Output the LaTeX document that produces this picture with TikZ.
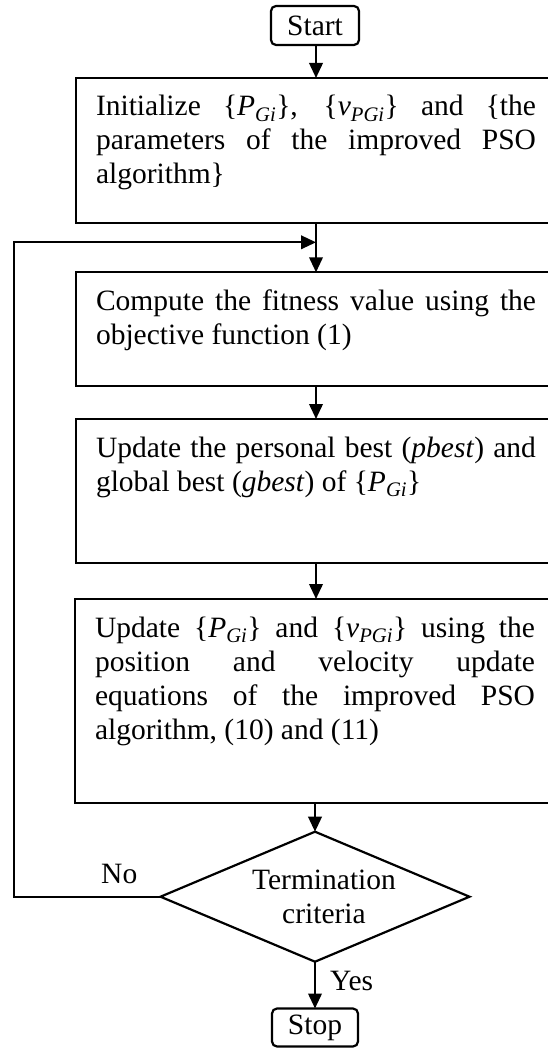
\documentclass[tikz,border=0pt]{standalone}
\usepackage{fontspec}
\setmainfont{Liberation Serif}
\usetikzlibrary{arrows.meta,shapes.geometric}
\newcommand{\PGi}{\{\textit{P}\textsubscript{\textit{Gi}}\}}
\newcommand{\vPGi}{\{\textit{v}\textsubscript{\textit{PGi}}\}}
\newcommand{\jl}[1]{\makebox[\linewidth][s]{#1}\par}
\newcommand{\boxtext}[2]{\parbox[c][#1][t]{440pt}{\fontsize{29.5pt}{34pt}\selectfont\lineskiplimit=-100pt\parindent=0pt\rule{0pt}{38pt}#2}}
\tikzset{
  procbox/.style={draw, rectangle, line width=2.2pt, inner xsep=20pt, inner ysep=0pt, outer sep=0pt, anchor=north west},
  termbox/.style={draw, rectangle, rounded corners=5pt, line width=2.2pt, inner sep=0pt, outer sep=0pt},
  decbox/.style={draw, diamond, line width=2.2pt, inner sep=0pt, outer sep=0pt},
  dectext/.style={inner sep=0pt, align=center},
  lab/.style={inner sep=0pt, anchor=base west},
  arr/.style={-{Triangle[length=15pt,width=13.5pt]}, line width=2.2pt}
}
\begin{document}
\begin{tikzpicture}[x=1pt,y=-1pt,font=\fontsize{29.5pt}{34pt}\selectfont]
\useasboundingbox (0,0) rectangle (547,1048);
\node[termbox, minimum width=88pt, minimum height=39pt] (start) at (315,25.5) {Start};
\node[procbox] (init) at (76,78) {\boxtext{144.7pt}{\jl{Initialize \PGi, \vPGi{} and \{the}\jl{parameters of the improved PSO}algorithm\}}};
\node[procbox] (comp) at (76,272.3) {\boxtext{113.4pt}{\jl{Compute the fitness value using the}objective function (1)}};
\node[procbox] (upd1) at (76,419) {\boxtext{143.7pt}{\jl{Update the personal best (\textit{pbest}) and}global best (\textit{gbest}) of \PGi}};
\node[procbox] (upd2) at (75,599) {\boxtext{203.7pt}{\jl{Update \PGi{} and \vPGi{} using the}\jl{position and velocity update}\jl{equations of the improved PSO}algorithm, (10) and (11)}};
\node[decbox, minimum width=309pt, minimum height=130pt] (dec) at (315,896.7) {};
\node[dectext] (dect) at (324,896.7) {Termination\\criteria};
\node[termbox, minimum width=86pt, minimum height=38pt] (stop) at (315,1027.5) {Stop};
\node[lab] (no) at (101,883) {No};
\node[lab] (yes) at (330,990) {Yes};
\coordinate (loopy) at (0,242.3);
\coordinate (loopx) at (14,0);
\coordinate (col) at (316,0);
\coordinate (join) at (col |- loopy);
\draw[arr] (start.south -| col) -- (init.north -| col);
\draw[arr] (init.south -| col) -- (comp.north -| col);
\draw[arr] (comp.south -| col) -- (upd1.north -| col);
\draw[arr] (upd1.south -| col) -- (upd2.north -| col);
\draw[arr] (upd2.south -| dec) -- (dec);
\draw[arr] (dec) -- (stop);
\draw[arr] (dec.west) -- (dec.west -| loopx) |- (join);
\end{tikzpicture}
\end{document}
